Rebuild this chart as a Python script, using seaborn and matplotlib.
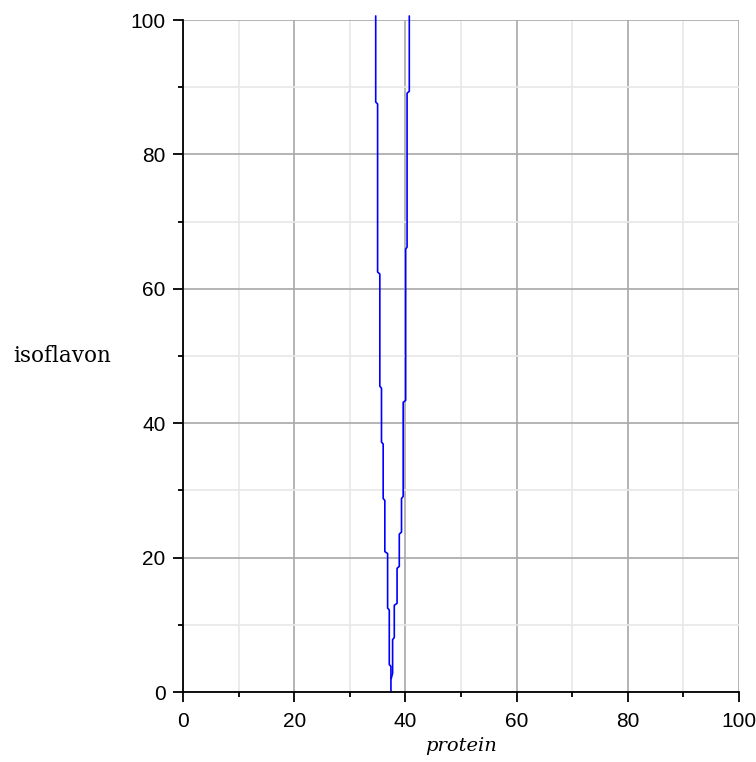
import matplotlib
matplotlib.use("Agg")
import matplotlib.pyplot as plt
import seaborn as sns
import pandas as pd

# Left branch of the curve (protein, isoflavon), top to bottom
left_protein = [34.66, 34.66, 35.0, 35.0, 35.4, 35.4, 35.7, 35.7, 36.0, 36.0,
                36.3, 36.3, 36.8, 36.8, 37.1, 37.1, 37.4, 37.4]
left_isoflavon = [100.6, 87.8, 87.5, 62.5, 62.2, 45.5, 45.2, 37.2, 36.9, 28.8,
                  28.5, 20.9, 20.6, 12.5, 12.2, 4.1, 3.8, 0.0]
# Right branch, bottom to top
right_protein = [37.45, 37.7, 37.7, 38.0, 38.0, 38.5, 38.5, 38.9, 38.9, 39.3,
                 39.3, 39.6, 39.6, 40.05, 40.05, 40.3, 40.3, 40.7, 40.7]
right_isoflavon = [2.0, 2.8, 7.8, 8.1, 12.9, 13.2, 18.4, 18.7, 23.5, 23.8,
                   28.8, 29.1, 43.1, 43.4, 65.9, 66.2, 89.1, 89.4, 100.6]

major_ticks = [0, 20, 40, 60, 80, 100]
minor_ticks = [10, 30, 50, 70, 90]

sns.set_style("white")
plt.rcParams['font.family'] = ['Liberation Sans', 'DejaVu Sans']
plt.rcParams['text.color'] = 'black'
plt.rcParams['xtick.color'] = 'black'
plt.rcParams['ytick.color'] = 'black'

fig = plt.figure(figsize=(7.56, 7.62), dpi=100)
ax = fig.add_axes([183/756, 1 - 692/762, (739-183)/756, (692-20)/762])

df_l = pd.DataFrame({"protein": left_protein, "isoflavon": left_isoflavon})
df_r = pd.DataFrame({"protein": right_protein, "isoflavon": right_isoflavon})
for d in (df_l, df_r):
    sns.lineplot(data=d, x="protein", y="isoflavon", sort=False, estimator=None,
                 color="#0000ff", linewidth=1.2, ax=ax, clip_on=False, zorder=5)

ax.set_xlim(0, 100)
ax.set_ylim(0, 100)
ax.set_xticks(major_ticks)
ax.set_yticks(major_ticks)
ax.set_xticks(minor_ticks, minor=True)
ax.set_yticks(minor_ticks, minor=True)
ax.set_xticklabels([str(t) for t in major_ticks])
ax.set_yticklabels([str(t) for t in major_ticks])

ax.grid(True, which="major", color="#a8a8a8", linewidth=1.2)
ax.grid(True, which="minor", color="#e8e8e8", linewidth=1.2)
ax.set_axisbelow(True)

for s in ("top", "right"):
    ax.spines[s].set_visible(False)
for s in ("left", "bottom"):
    ax.spines[s].set_color("black")
    ax.spines[s].set_linewidth(1.3)
    ax.spines[s].set_zorder(6)

ax.tick_params(which="major", direction="out", length=7.5, width=1.3, color="black",
               labelcolor="black", labelsize=15, left=True, bottom=True)
ax.tick_params(axis="x", which="major", pad=7)
ax.tick_params(axis="y", which="major", pad=5)
ax.tick_params(which="minor", direction="out", length=3.5, width=1.3, color="black",
               left=True, bottom=True)

ax.set_xlabel("protein", family=["DejaVu Serif"], style="italic", fontsize=14,
              labelpad=4, color="black")
ax.set_ylabel("isoflavon", family=["DejaVu Serif"], fontsize=15.5, rotation=0,
              ha="left", va="center", color="black")
ax.yaxis.set_label_coords(-183/556 + 13/556, 0.5)

fig.savefig("out.png", dpi=100)
